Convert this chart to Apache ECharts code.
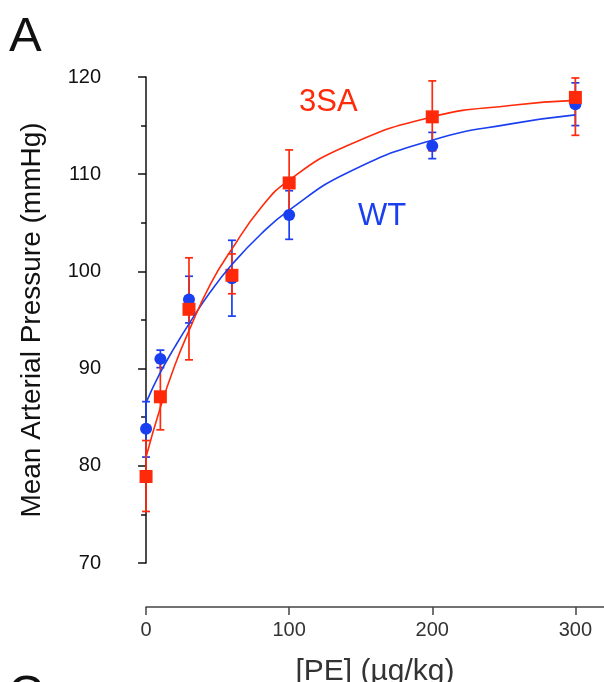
<!DOCTYPE html>
<html>
<head>
<meta charset="utf-8">
<script src="https://cdn.jsdelivr.net/npm/echarts@6/dist/echarts.min.js"></script>
<style>
  html, body { margin: 0; padding: 0; background: #fff; }
  #chart { width: 604px; height: 682px; }
</style>
</head>
<body>
<div id="chart"></div>
<script>
// doses (ug/kg)
const doses = [0, 10, 30, 60, 100, 200, 300]

// WT means and error bar ends
const wtMean = [83.8, 91.0, 97.1, 99.3, 105.8, 112.9, 117.2]
const wtLow = [80.9, 90.1, 94.7, 95.4, 103.3, 111.6, 115.0]
const wtHigh = [86.6, 91.9, 99.5, 103.2, 108.3, 114.3, 119.4]

// 3SA means and error bar ends
const saMean = [78.9, 87.1, 96.1, 99.6, 109.1, 115.9, 117.9]
const saLow = [75.3, 83.7, 90.9, 97.7, 105.6, 112.4, 114.0]
const saHigh = [82.6, 90.6, 101.4, 101.8, 112.5, 119.6, 119.9]

// fitted curves
const curveX = [0, 10, 20, 30, 45, 60, 80, 100, 140, 200, 256, 300]
const wtCurve = [86.5, 89.6, 92.2, 94.6, 97.9, 100.7, 103.8, 106.3, 110.1, 113.5, 115.2, 116.1]
const saCurve = [80.9, 86.0, 90.3, 93.9, 98.7, 102.3, 106.5, 109.4, 112.9, 115.9, 117.1, 117.6]

const yTicks = [70, 80, 90, 100, 110, 120]
const xTicks = [0, 100, 200, 300]

const RED = '#ff2a0a'
const BLUE = '#1a3ff0'
const FONT = 'Liberation Sans'

const chart = echarts.init(document.getElementById('chart'))

function pairs(xs, ys) {
  return xs.map((x, i) => [x, ys[i]])
}

function errorSeries(low, high, color) {
  return {
    type: 'custom',
    xAxisIndex: 0,
    yAxisIndex: 0,
    data: doses.map((d, i) => [d, low[i], high[i]]),
    renderItem(params, api) {
      const lo = api.coord([api.value(0), api.value(1)])
      const hi = api.coord([api.value(0), api.value(2)])
      const w = 4
      const style = { stroke: color, lineWidth: 1.7 }
      return {
        type: 'group',
        children: [
          { type: 'line', shape: { x1: lo[0], y1: lo[1], x2: hi[0], y2: hi[1] }, style },
          { type: 'line', shape: { x1: lo[0] - w, y1: lo[1], x2: lo[0] + w, y2: lo[1] }, style },
          { type: 'line', shape: { x1: hi[0] - w, y1: hi[1], x2: hi[0] + w, y2: hi[1] }, style }
        ]
      }
    },
    silent: true
  }
}

chart.setOption({
  animation: false,
  textStyle: { fontFamily: FONT },
  grid: [
    { left: 114, right: 0, top: 77, bottom: 119, outerBoundsMode: 'none' },
    { left: 146, right: 0, top: 600, bottom: 75, outerBoundsMode: 'none' }
  ],
  xAxis: [
    {
      gridIndex: 0,
      type: 'value',
      min: -22.4,
      max: 320,
      show: false
    },
    {
      gridIndex: 1,
      type: 'value',
      min: 0,
      max: 320,
      interval: 100,
      position: 'bottom',
      name: '[PE] (µg/kg)',
      nameLocation: 'middle',
      nameGap: 50,
      nameTextStyle: { fontSize: 30, color: '#333', fontFamily: FONT },
      axisLine: { show: true, onZero: false, lineStyle: { color: '#444', width: 1.5 } },
      axisTick: { show: true, length: 8, lineStyle: { color: '#444', width: 1.5 },
        customValues: xTicks },
      axisLabel: { fontSize: 20, color: '#333', margin: 13, customValues: xTicks },
      splitLine: { show: false }
    }
  ],
  yAxis: [
    {
      gridIndex: 0,
      type: 'value',
      min: 70,
      max: 120,
      interval: 10,
      name: 'Mean Arterial Pressure (mmHg)',
      nameLocation: 'middle',
      nameGap: 68,
      nameTextStyle: { fontSize: 28, color: '#111', fontFamily: FONT },
      axisLine: { show: true, lineStyle: { color: '#111', width: 1.5 } },
      axisTick: { show: true, length: 8, lineStyle: { color: '#111', width: 1.5 } },
      minorTick: { show: true, splitNumber: 2, length: 5, lineStyle: { color: '#111', width: 1.5 } },
      axisLabel: { fontSize: 20, color: '#111', margin: 13, customValues: yTicks },
      splitLine: { show: false }
    },
    {
      gridIndex: 1,
      type: 'value',
      min: 0,
      max: 1,
      show: false
    }
  ],
  graphic: [
    { type: 'text', left: 9, top: 13, style: { text: 'A', fontSize: 49, fill: '#111', fontFamily: FONT } },
    { type: 'text', left: 8, top: 671, style: { text: 'C', fontSize: 49, fill: '#111', fontFamily: FONT } },
    { type: 'text', left: 299, top: 87, style: { text: '3SA', fontSize: 31, fill: RED, fontFamily: FONT } },
    { type: 'text', left: 358, top: 201, style: { text: 'WT', fontSize: 31, fill: BLUE, fontFamily: FONT } }
  ],
  series: [
    {
      type: 'line',
      name: 'WT fit',
      data: pairs(curveX, wtCurve),
      smooth: true,
      showSymbol: false,
      lineStyle: { color: BLUE, width: 1.6 },
      silent: true
    },
    {
      type: 'line',
      name: '3SA fit',
      data: pairs(curveX, saCurve),
      smooth: true,
      showSymbol: false,
      lineStyle: { color: RED, width: 1.6 },
      silent: true
    },
    errorSeries(wtLow, wtHigh, BLUE),
    {
      type: 'scatter',
      name: 'WT',
      data: pairs(doses, wtMean),
      symbol: 'circle',
      symbolSize: 12,
      itemStyle: { color: BLUE, opacity: 1 }
    },
    errorSeries(saLow, saHigh, RED),
    {
      type: 'scatter',
      name: '3SA',
      data: pairs(doses, saMean),
      symbol: 'rect',
      symbolSize: 13,
      itemStyle: { color: RED, opacity: 1 }
    }
  ]
})
</script>
</body>
</html>
